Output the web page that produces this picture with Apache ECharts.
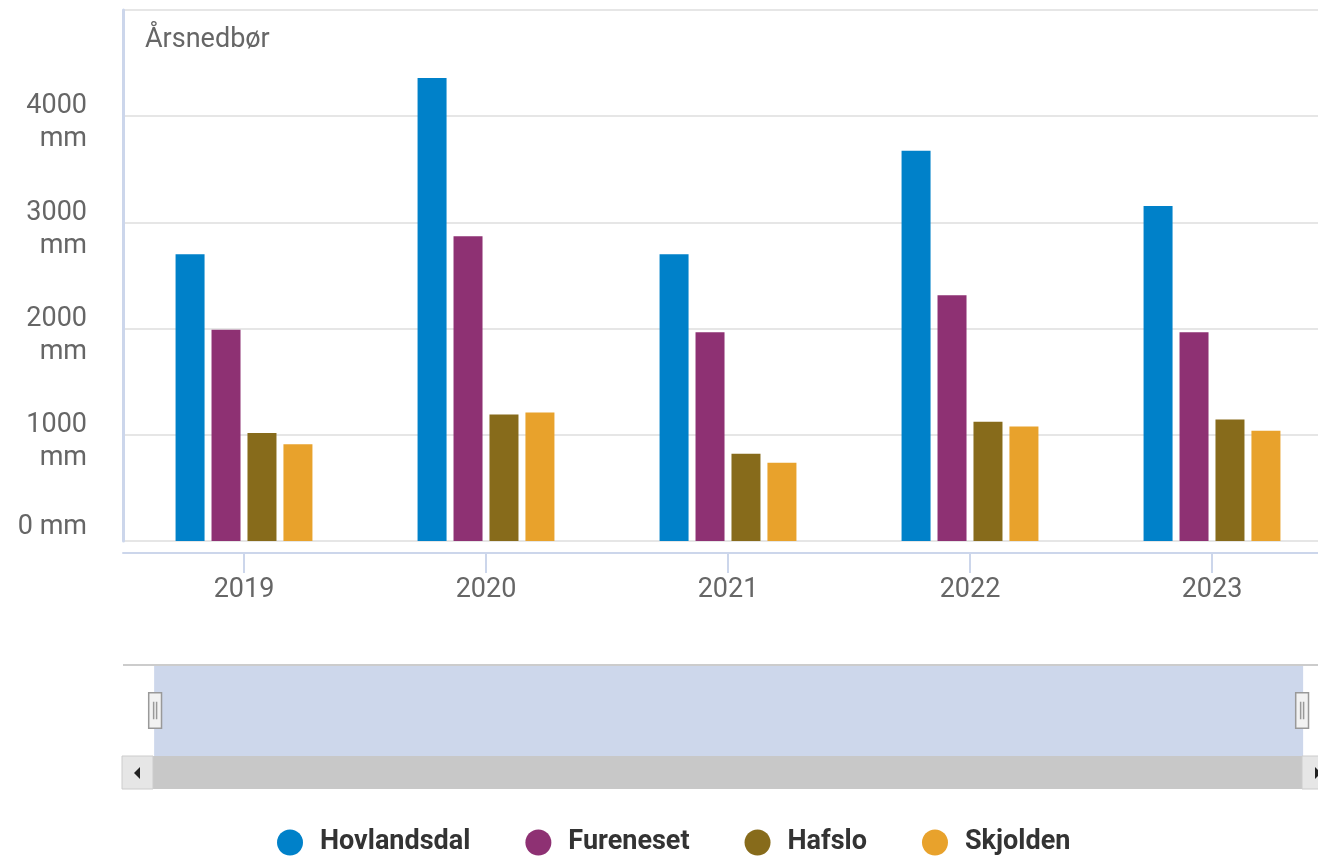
<!DOCTYPE html>
<html>
<head>
<meta charset="utf-8">
<script src="https://cdn.jsdelivr.net/npm/echarts@6/dist/echarts.min.js"></script>
<style>
html,body{margin:0;padding:0;background:#fff;}
#chart{width:1318px;height:858px;}
</style>
</head>
<body>
<div id="chart"></div>
<script>
const categories = ['2019', '2020', '2021', '2022', '2023'];
const seriesNames = ['Hovlandsdal', 'Fureneset', 'Hafslo', 'Skjolden'];
const hovlandsdal = [2700, 4360, 2700, 3675, 3155];
const fureneset = [1990, 2870, 1965, 2315, 1965];
const hafslo = [1017, 1190, 822, 1124, 1143];
const skjolden = [910, 1209, 737, 1077, 1039];
const yTicks = [0, 1000, 2000, 3000, 4000, 5000];
const colors = ['#0081C9', '#8E3173', '#876B1B', '#E8A22C'];
const axisTitle = 'Årsnedbør';

const seriesValues = [hovlandsdal, fureneset, hafslo, skjolden];
const FONT = 'Roboto';
const FS = 27;

const chart = echarts.init(document.getElementById('chart'), null, {renderer: 'canvas'});

const option = {
  animation: false,
  backgroundColor: '#ffffff',
  textStyle: {fontFamily: FONT},
  title: {
    text: axisTitle,
    left: 145, top: 27, padding: 0,
    textStyle: {fontFamily: FONT, fontSize: FS, fontWeight: 'normal', color: '#666666'}
  },
  grid: {left: 123, top: 10, width: 1210, height: 531, outerBoundsMode: 'none'},
  legend: {
    data: seriesNames,
    left: 277, top: 829, padding: 0,
    icon: 'circle',
    itemWidth: 26, itemHeight: 26,
    itemGap: 55,
    textStyle: {fontFamily: FONT, fontSize: FS, fontWeight: 'bold', color: '#333333', padding: [0, 0, 0, 12]}
  },
  xAxis: {
    type: 'category',
    data: categories,
    offset: 12,
    axisLine: {show: true, onZero: false, lineStyle: {color: '#CCD6EB', width: 2}},
    axisTick: {show: true, alignWithLabel: true, length: 20, lineStyle: {color: '#CCD6EB', width: 2}},
    axisLabel: {margin: 24, fontFamily: FONT, fontSize: FS, color: '#666666'},
    splitLine: {show: false}
  },
  yAxis: {
    type: 'value',
    min: yTicks[0], max: yTicks[yTicks.length - 1], interval: 1000,
    axisLine: {show: true, lineStyle: {color: '#CCD6EB', width: 3}},
    axisTick: {show: false},
    splitLine: {show: true, lineStyle: {color: '#E6E6E6', width: 2}},
    axisLabel: {
      margin: 36,
      align: 'right',
      padding: [14, 0, 0, 0],
      fontFamily: FONT, fontSize: FS, color: '#666666',
      formatter: function (v) {
        if (v === 5000) return '';
        if (v === 0) return '{z|0 mm}';
        return '{a|' + v + '}\n{a|mm}';
      },
      rich: {
        z: {fontFamily: FONT, fontSize: FS, color: '#666666', padding: [0, 0, 42, 0]},
        a: {fontFamily: FONT, fontSize: FS, color: '#666666', lineHeight: 33}
      }
    }
  },
  dataZoom: [{
    type: 'slider',
    xAxisIndex: 0,
    start: 0, end: 100,
    left: 153, right: 16, top: 665, height: 91,
    backgroundColor: 'rgba(0,0,0,0)',
    borderColor: 'rgba(0,0,0,0)',
    fillerColor: 'rgba(102,133,194,0.33)',
    showDataShadow: false,
    showDetail: false,
    brushSelect: false,
    dataBackground: {lineStyle: {opacity: 0}, areaStyle: {opacity: 0}},
    selectedDataBackground: {lineStyle: {opacity: 0}, areaStyle: {opacity: 0}},
    handleIcon: 'path://M0,0 h13 v36 h-13 Z M5,9 v18 M8,9 v18',
    handleSize: '39%',
    handleStyle: {color: '#F2F2F2', borderColor: '#999999', borderWidth: 1.5},
    moveHandleSize: 33,
    moveHandleIcon: 'path://M0,0',
    moveHandleStyle: {color: '#C8C8C8', opacity: 1},
    emphasis: {moveHandleStyle: {color: '#C8C8C8', opacity: 1}, handleStyle: {color: '#F2F2F2', borderColor: '#999999'}}
  }],
  graphic: [
    {type: 'rect', z: 1, shape: {x: 153, y: 756, width: 1149, height: 33}, style: {fill: '#C8C8C8'}},
    {type: 'line', z: 100, shape: {x1: 123, y1: 665, x2: 1318, y2: 665}, style: {stroke: '#CCCCCC', lineWidth: 2}},
    {type: 'rect', z: 100, shape: {x: 122, y: 756, width: 31, height: 33}, style: {fill: '#E6E6E6', stroke: '#CCCCCC', lineWidth: 1}},
    {type: 'polygon', z: 101, shape: {points: [[134, 773], [140, 767], [140, 779]]}, style: {fill: '#222222'}},
    {type: 'rect', z: 100, shape: {x: 1302, y: 756, width: 31, height: 33}, style: {fill: '#E6E6E6', stroke: '#CCCCCC', lineWidth: 1}},
    {type: 'polygon', z: 101, shape: {points: [[1315, 767], [1321, 773], [1315, 779]]}, style: {fill: '#222222'}},
    {type: 'group', z: 101, children: [
      {type: 'line', shape: {x1: 723, y1: 768, x2: 723, y2: 778}, style: {stroke: '#333333', lineWidth: 1}},
      {type: 'line', shape: {x1: 727, y1: 768, x2: 727, y2: 778}, style: {stroke: '#333333', lineWidth: 1}},
      {type: 'line', shape: {x1: 731, y1: 768, x2: 731, y2: 778}, style: {stroke: '#333333', lineWidth: 1}}
    ]}
  ],
  series: seriesNames.map(function (name, i) {
    return {
      name: name,
      type: 'bar',
      data: seriesValues[i],
      barWidth: 29,
      barGap: '24%',
      itemStyle: {color: colors[i]},
      emphasis: {disabled: true}
    };
  })
};

chart.setOption(option);
</script>
</body>
</html>
